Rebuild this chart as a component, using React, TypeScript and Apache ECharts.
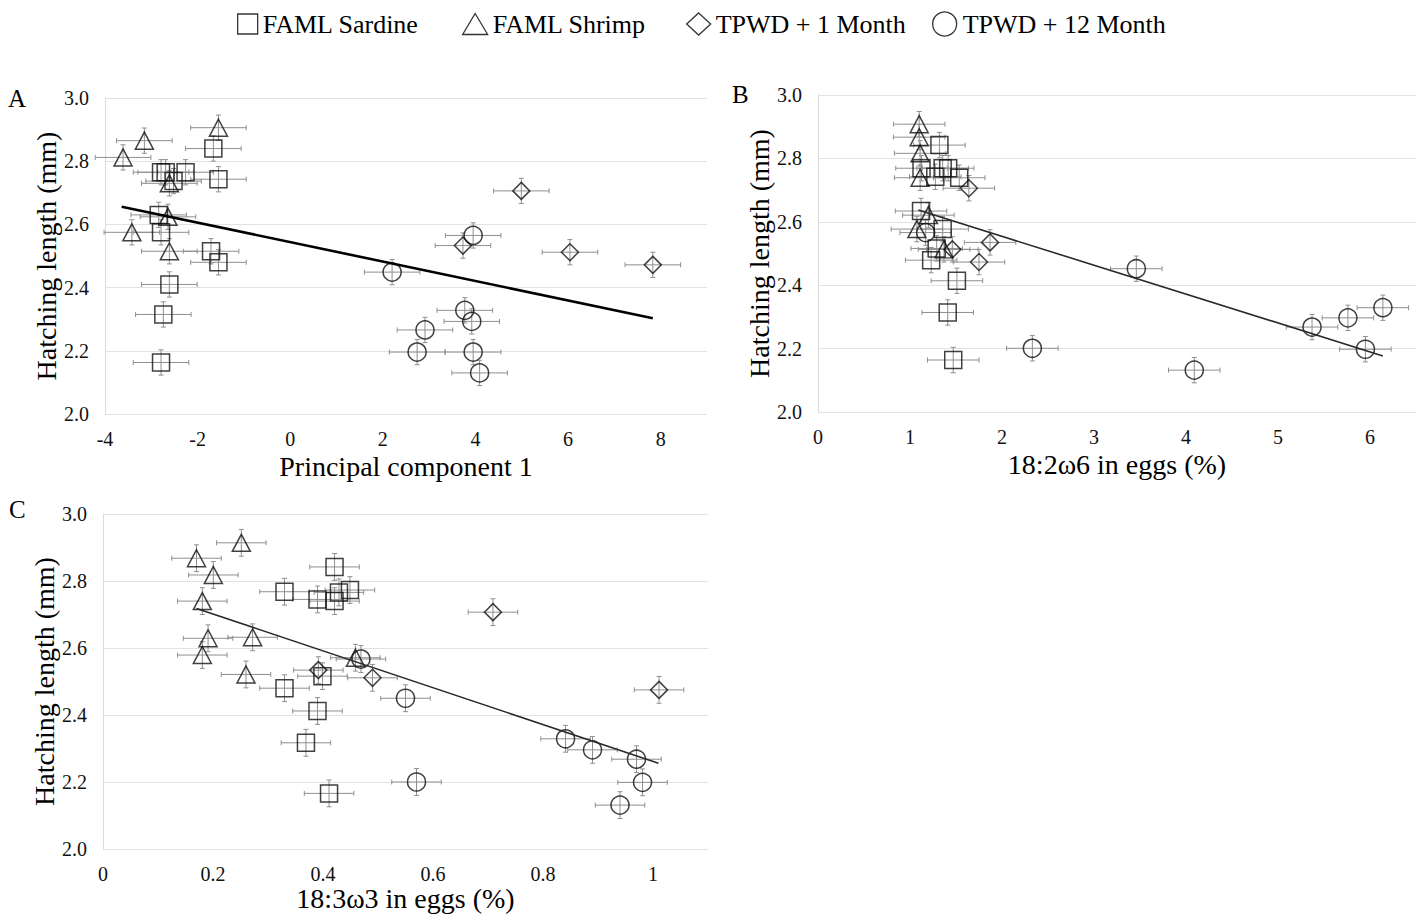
import React, { useEffect, useRef } from "react";
import * as echarts from "echarts";

// ---- Panel A: principal component 1 vs hatching length ----
const SARDINE_PC1 = [-1.66, -2.79, -2.69, -2.26, -2.52, -1.55, -2.84, -2.79, -1.71, -1.55, -2.61, -2.74, -2.79];
const SARDINE_LEN_A = [2.84, 2.765, 2.765, 2.765, 2.737, 2.743, 2.63, 2.575, 2.515, 2.48, 2.41, 2.315, 2.163];
const SHRIMP_PC1 = [-1.55, -3.15, -3.61, -2.61, -2.64, -3.42, -2.61];
const SHRIMP_LEN_A = [2.906, 2.865, 2.812, 2.73, 2.624, 2.575, 2.515];
const TPWD1_PC1 = [4.99, 3.73, 6.04, 7.83];
const TPWD1_LEN_A = [2.706, 2.533, 2.512, 2.472];
const TPWD12_PC1 = [3.95, 2.2, 3.77, 3.92, 2.91, 2.74, 3.95, 4.09];
const TPWD12_LEN_A = [2.565, 2.449, 2.328, 2.293, 2.266, 2.196, 2.196, 2.13];
const TREND_A = [[-3.64, 2.656], [7.83, 2.303]];

// ---- Panel B: 18:2w6 in eggs vs hatching length ----
const SARDINE_LA = [1.32, 1.125, 1.355, 1.415, 1.275, 1.535, 1.12, 1.355, 1.29, 1.23, 1.51, 1.41, 1.47];
const SARDINE_LEN_B = [2.842, 2.769, 2.769, 2.769, 2.742, 2.739, 2.634, 2.577, 2.516, 2.479, 2.414, 2.314, 2.164];
const SHRIMP_LA = [1.1, 1.1, 1.11, 1.11, 1.2, 1.075, 1.37];
const SHRIMP_LEN_B = [2.908, 2.867, 2.816, 2.739, 2.621, 2.577, 2.513];
const TPWD1_LA = [1.64, 1.87, 1.46, 1.75];
const TPWD1_LEN_B = [2.706, 2.535, 2.513, 2.473];
const TPWD12_LA = [1.17, 2.33, 3.46, 4.09, 5.37, 5.76, 6.14, 5.95];
const TPWD12_LEN_B = [2.566, 2.201, 2.452, 2.132, 2.268, 2.297, 2.329, 2.198];
const TREND_B = [[1.09, 2.637], [6.14, 2.177]];

// ---- Panel C: 18:3w3 in eggs vs hatching length ----
const SARDINE_ALA = [0.421, 0.33, 0.39, 0.421, 0.429, 0.449, 0.399, 0.33, 0.39, 0.369, 0.411];
const SARDINE_LEN_C = [2.842, 2.768, 2.745, 2.74, 2.766, 2.773, 2.516, 2.48, 2.412, 2.317, 2.166];
const SHRIMP_ALA = [0.2515, 0.17, 0.2006, 0.1806, 0.191, 0.272, 0.1806, 0.26, 0.459];
const SHRIMP_LEN_C = [2.914, 2.868, 2.818, 2.74, 2.629, 2.632, 2.579, 2.521, 2.571];
const TPWD1_ALA = [0.709, 0.3915, 0.49, 1.011];
const TPWD1_LEN_C = [2.707, 2.534, 2.511, 2.475];
const TPWD12_ALA = [0.469, 0.55, 0.841, 0.89, 0.97, 0.981, 0.94, 0.57];
const TPWD12_LEN_C = [2.567, 2.45, 2.329, 2.296, 2.268, 2.199, 2.131, 2.2];
const TREND_C = [[0.17, 2.718], [1.01, 2.256]];

// Error bar half-widths per panel (x) and for hatching length (y)
const X_ERR = [0.6, 0.28, 0.045];
const Y_ERR = 0.04;

const GROUPS = ["FAML Sardine", "FAML Shrimp", "TPWD + 1 Month", "TPWD + 12 Month"];

const FONT = "'Liberation Serif', 'Times New Roman', serif";

const zip = (xs: number[], ys: number[]) => xs.map((x, i) => [x, ys[i]]);

export default function App() {
  const ref = useRef<HTMLDivElement>(null);

  useEffect(() => {
    if (!ref.current) return;
    const chart = echarts.init(ref.current, undefined, { renderer: "svg" });

    const panels = [
      {
        groups: [
          zip(SARDINE_PC1, SARDINE_LEN_A),
          zip(SHRIMP_PC1, SHRIMP_LEN_A),
          zip(TPWD1_PC1, TPWD1_LEN_A),
          zip(TPWD12_PC1, TPWD12_LEN_A),
        ],
        trend: TREND_A,
        trendStyle: { color: "#000", width: 2.6 },
      },
      {
        groups: [
          zip(SARDINE_LA, SARDINE_LEN_B),
          zip(SHRIMP_LA, SHRIMP_LEN_B),
          zip(TPWD1_LA, TPWD1_LEN_B),
          zip(TPWD12_LA, TPWD12_LEN_B),
        ],
        trend: TREND_B,
        trendStyle: { color: "#2a2a2a", width: 1.6 },
      },
      {
        groups: [
          zip(SARDINE_ALA, SARDINE_LEN_C),
          zip(SHRIMP_ALA, SHRIMP_LEN_C),
          zip(TPWD1_ALA, TPWD1_LEN_C),
          zip(TPWD12_ALA, TPWD12_LEN_C),
        ],
        trend: TREND_C,
        trendStyle: { color: "#2a2a2a", width: 1.6 },
      },
    ];

    const symbols = [
      { symbol: "rect", size: [17, 17] },
      { symbol: "triangle", size: [18, 17] },
      { symbol: "diamond", size: [17, 17] },
      { symbol: "circle", size: [18, 18] },
    ];

    const markerStyle = {
      color: "rgba(255,255,255,0)",
      borderColor: "#111",
      borderWidth: 1.5,
    };

    const series: any[] = [];
    panels.forEach((p, idx) => {
      const xErr = X_ERR[idx];
      series.push({
        type: "custom",
        xAxisIndex: idx,
        yAxisIndex: idx,
        silent: true,
        z: 1,
        encode: { x: 0, y: 1 },
        data: p.groups.flat(),
        renderItem: (_params: any, api: any) => {
          const x = api.value(0);
          const y = api.value(1);
          const L = api.coord([x - xErr, y]);
          const R = api.coord([x + xErr, y]);
          const T = api.coord([x, y + Y_ERR]);
          const B = api.coord([x, y - Y_ERR]);
          const style = { stroke: "#8f8f8f", lineWidth: 1 };
          const cap = 2.5;
          return {
            type: "group",
            children: [
              { type: "line", shape: { x1: L[0], y1: L[1], x2: R[0], y2: R[1] }, style },
              { type: "line", shape: { x1: T[0], y1: T[1], x2: B[0], y2: B[1] }, style },
              { type: "line", shape: { x1: L[0], y1: L[1] - cap, x2: L[0], y2: L[1] + cap }, style },
              { type: "line", shape: { x1: R[0], y1: R[1] - cap, x2: R[0], y2: R[1] + cap }, style },
              { type: "line", shape: { x1: T[0] - cap, y1: T[1], x2: T[0] + cap, y2: T[1] }, style },
              { type: "line", shape: { x1: B[0] - cap, y1: B[1], x2: B[0] + cap, y2: B[1] }, style },
            ],
          };
        },
      });
      p.groups.forEach((pts, g) => {
        series.push({
          name: GROUPS[g],
          type: "scatter",
          xAxisIndex: idx,
          yAxisIndex: idx,
          data: pts,
          symbol: symbols[g].symbol,
          symbolSize: symbols[g].size,
          itemStyle: markerStyle,
          z: 3,
        });
      });
      series.push({
        type: "line",
        xAxisIndex: idx,
        yAxisIndex: idx,
        data: p.trend,
        symbol: "none",
        silent: true,
        lineStyle: p.trendStyle,
        z: 4,
      });
    });

    const yAxisBase = {
      type: "value",
      min: 2,
      max: 3,
      interval: 0.2,
      name: "Hatching length (mm)",
      nameLocation: "middle",
      nameGap: 40,
      nameTextStyle: { fontSize: 28, fontFamily: FONT, color: "#000" },
      axisLine: { show: true, onZero: false, lineStyle: { color: "#dcdcdc", width: 1 } },
      axisTick: { show: false },
      axisLabel: {
        fontSize: 20,
        fontFamily: FONT,
        color: "#111",
        margin: 16,
        formatter: (v: number) => v.toFixed(1),
      },
      splitLine: { show: true, lineStyle: { color: "#e2e2e2", width: 1 } },
    };

    const xAxisBase = {
      type: "value",
      nameLocation: "middle",
      nameTextStyle: { fontSize: 28, fontFamily: FONT, color: "#000" },
      axisLine: { show: false, onZero: false },
      axisTick: { show: false },
      splitLine: { show: false },
      axisLabel: {
        fontSize: 20,
        fontFamily: FONT,
        color: "#111",
        margin: 15,
        showMaxLabel: false,
      },
    };

    const legendBase = {
      top: 6,
      selectedMode: false,
      textStyle: { fontSize: 26, fontFamily: FONT, color: "#000" },
      itemStyle: { color: "rgba(255,255,255,0)", borderColor: "#000", borderWidth: 1.3 },
    };

    const panelLabel = (text: string, x: number, y: number) => ({
      type: "text",
      x,
      y,
      style: { text, fontSize: 25, fontFamily: FONT, fill: "#000", textVerticalAlign: "middle" },
    });

    chart.setOption({
      animation: false,
      backgroundColor: "#fff",
      grid: [
        { left: 105, top: 98, width: 602, height: 316 },
        { left: 818, top: 95, width: 598, height: 317 },
        { left: 103, top: 514, width: 605, height: 335 },
      ],
      xAxis: [
        { ...xAxisBase, gridIndex: 0, min: -4, max: 9, interval: 2, name: "Principal component 1", nameGap: 38 },
        { ...xAxisBase, gridIndex: 1, min: 0, max: 6.5, interval: 1, name: "18:2ω6 in eggs (%)", nameGap: 38 },
        { ...xAxisBase, gridIndex: 2, min: 0, max: 1.1, interval: 0.2, name: "18:3ω3 in eggs (%)", nameGap: 34 },
      ],
      yAxis: [
        { ...yAxisBase, gridIndex: 0 },
        { ...yAxisBase, gridIndex: 1 },
        { ...yAxisBase, gridIndex: 2 },
      ],
      legend: [
        { ...legendBase, data: [GROUPS[0]], left: 232, itemWidth: 20, itemHeight: 20 },
        { ...legendBase, data: [GROUPS[1]], left: 457, itemWidth: 25, itemHeight: 21 },
        { ...legendBase, data: [GROUPS[2]], left: 681, itemWidth: 24, itemHeight: 22 },
        { ...legendBase, data: [GROUPS[3]], left: 927, itemWidth: 26, itemHeight: 24 },
      ],
      graphic: [panelLabel("A", 8, 98), panelLabel("B", 732, 94), panelLabel("C", 9, 509)],
      series,
    });

    return () => chart.dispose();
  }, []);

  return (
    <div
      ref={ref}
      style={{ position: "fixed", left: 0, top: 0, width: 1424, height: 916, background: "#fff" }}
    />
  );
}
